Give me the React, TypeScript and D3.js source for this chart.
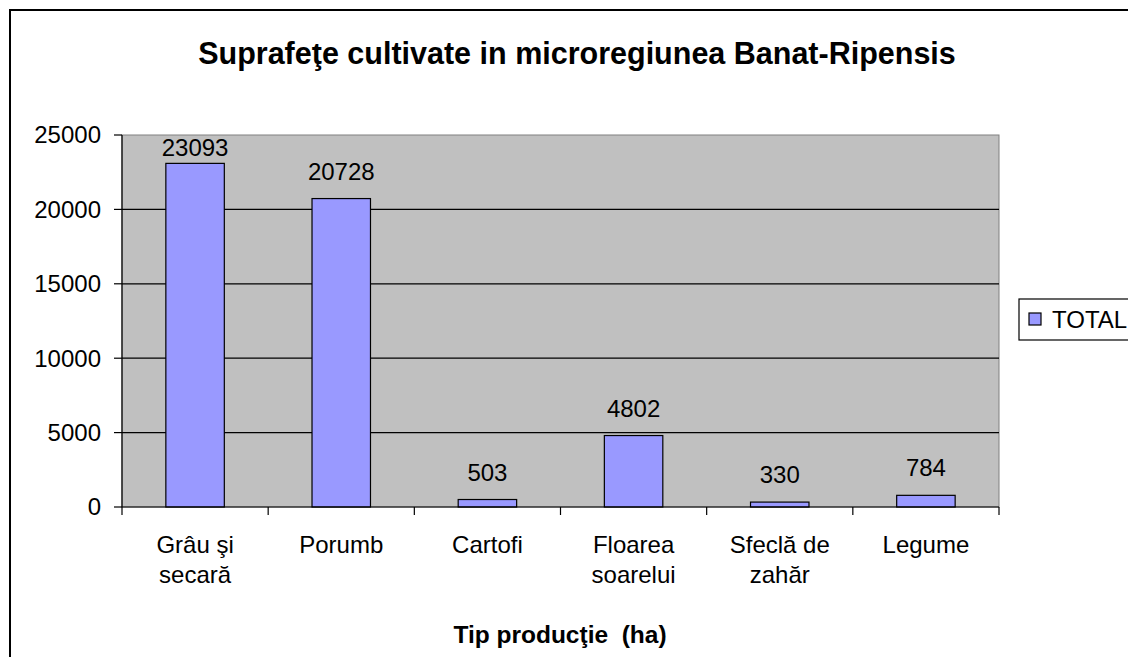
import React from "react";
import * as d3 from "d3";

const categories: string[][] = [
  ["Grâu şi", "secară"],
  ["Porumb"],
  ["Cartofi"],
  ["Floarea", "soarelui"],
  ["Sfeclă de", "zahăr"],
  ["Legume"],
];
const values: number[] = [23093, 20728, 503, 4802, 330, 784];
const yTicks: number[] = [0, 5000, 10000, 15000, 20000, 25000];
const seriesName = "TOTAL";
const title = "Suprafeţe cultivate in microregiunea Banat-Ripensis";
const xTitle = "Tip producţie  (ha)";

export default function App() {
  const W = 1128, H = 657;
  const left = 122, right = 999, top = 135, bottom = 507;
  const font = "'Liberation Sans', Arial, sans-serif";
  const keys = categories.map((c, i) => String(i));
  const x = d3.scaleBand<string>().domain(keys).range([left, right]).paddingInner(0.6).paddingOuter(0.3);
  const xb = d3.scaleBand<string>().domain(keys).range([left, right]);
  const y = d3.scaleLinear().domain([0, 25000]).range([bottom, top]);
  return (
    <svg width={W} height={H} style={{ position: "absolute", left: 0, top: 0 }} fontFamily={font}>
      <rect x={0} y={0} width={W} height={H} fill="#fff" />
      <rect x={10} y={10} width={1140} height={680} fill="#fff" stroke="#000" strokeWidth={2} />
      <text x={577} y={64} textAnchor="middle" fontSize={30.5} fontWeight="bold">{title}</text>
      <rect x={left} y={top} width={right - left} height={bottom - top} fill="#C0C0C0" stroke="#808080" strokeWidth={1} />
      {yTicks.filter(t => t > 0 && t < 25000).map(t => (
        <line key={t} x1={left} x2={right} y1={y(t)} y2={y(t)} stroke="#000" strokeWidth={1.2} />
      ))}
      {values.map((v, i) => (
        <rect key={i} x={x(String(i))!} y={y(v)} width={x.bandwidth()} height={bottom - y(v)}
          fill="#9999FF" stroke="#000" strokeWidth={1.2} />
      ))}
      <line x1={left} x2={left} y1={top} y2={bottom} stroke="#000" strokeWidth={1.2} />
      <line x1={left} x2={right} y1={bottom} y2={bottom} stroke="#000" strokeWidth={1.2} />
      {yTicks.map(t => (
        <g key={t}>
          <line x1={left - 8} x2={left} y1={y(t)} y2={y(t)} stroke="#000" strokeWidth={1.2} />
          <text x={101} y={y(t)} dy="0.35em" textAnchor="end" fontSize={24}>{t}</text>
        </g>
      ))}
      {[...keys.map(k => xb(k)!), right].map((px, i) => (
        <line key={i} x1={px} x2={px} y1={bottom} y2={bottom + 8} stroke="#000" strokeWidth={1.2} />
      ))}
      {values.map((v, i) => {
        const cx = x(String(i))! + x.bandwidth() / 2;
        const by = Math.max(y(v) - 19, top + 21);
        return <text key={i} x={cx} y={by} textAnchor="middle" fontSize={24}>{v}</text>;
      })}
      {categories.map((lines, i) => {
        const cx = xb(String(i))! + xb.bandwidth() / 2;
        return (
          <text key={i} x={cx} y={553} textAnchor="middle" fontSize={24}>
            {lines.map((l, j) => <tspan key={j} x={cx} dy={j === 0 ? 0 : 30}>{l}</tspan>)}
          </text>
        );
      })}
      <text x={560} y={643} textAnchor="middle" fontSize={24.5} fontWeight="bold" style={{ whiteSpace: "pre" }}>{xTitle}</text>
      <rect x={1019} y={299} width={200} height={41} fill="#fff" stroke="#000" strokeWidth={1.2} />
      <rect x={1029} y={313} width={12} height={12} fill="#9999FF" stroke="#000" strokeWidth={1.2} />
      <text x={1052} y={328} fontSize={24}>{seriesName}</text>
    </svg>
  );
}
